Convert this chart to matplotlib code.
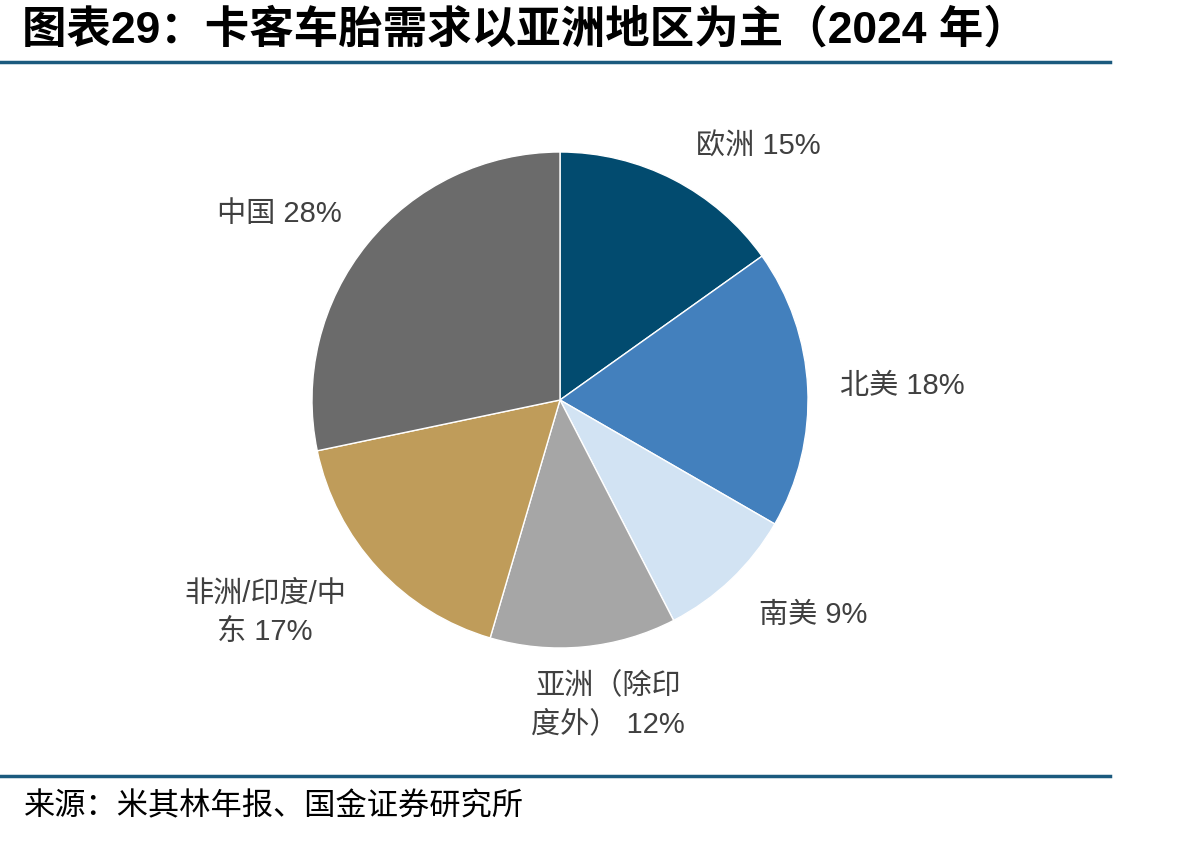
import matplotlib.pyplot as plt
from matplotlib.lines import Line2D

plt.rcParams["font.family"] = ["Noto Sans CJK SC", "DejaVu Sans"]

TITLE = "图表29：卡客车胎需求以亚洲地区为主（2024 年）"
SOURCE = "来源：米其林年报、国金证券研究所"

regions = ["欧洲", "北美", "南美", "亚洲（除印\n度外）", "非洲/印度/中\n东", "中国"]
shares = [15, 18, 9, 12, 17, 28]
colors = ["#024b6f", "#4380bd", "#d2e3f3", "#a6a6a6", "#bf9c5a", "#6b6b6b"]

# label centres in axes data units (pie radius = 1)
label_pos = [(0.8, 1.02), (1.38, 0.056), (1.02, -0.867),
             (0.194, -1.23), (-1.19, -0.859), (-1.13, 0.75)]

fig = plt.figure(figsize=(12.04, 8.41), dpi=100)

r_px = 248
cx, cy = 560, 400
ax = fig.add_axes([(cx - r_px) / 1204, (841 - cy - r_px) / 841,
                   2 * r_px / 1204, 2 * r_px / 841])
ax.pie(shares, colors=colors, startangle=90, counterclock=False,
       wedgeprops=dict(edgecolor="white", linewidth=1))
ax.set_xlim(-1, 1)
ax.set_ylim(-1, 1)
ax.set_aspect("equal")
ax.axis("off")

label_fonts = ["Liberation Sans", "Noto Sans CJK SC"]
for name, val, (x, y) in zip(regions, shares, label_pos):
    ax.text(x, y, f"{name} {val}%", ha="center", va="center",
            fontsize=21, color="#404040", linespacing=1.45, clip_on=False,
            family=label_fonts)

fig.text(22 / 1204, 1 - 30 / 841, TITLE, ha="left", va="center",
         fontsize=32, fontweight="bold", color="black",
         family=["Liberation Sans", "Noto Sans CJK SC"])
fig.add_artist(Line2D([0, 1110 / 1204], [1 - 62 / 841] * 2,
                      color="#1b5a7e", linewidth=2.5))
fig.add_artist(Line2D([0, 1110 / 1204], [1 - 776 / 841] * 2,
                      color="#1b5a7e", linewidth=2.5))
fig.text(24 / 1204, 1 - 806 / 841, SOURCE, ha="left", va="center",
         fontsize=22.5, color="black")

fig.savefig("out.png", dpi=100)
